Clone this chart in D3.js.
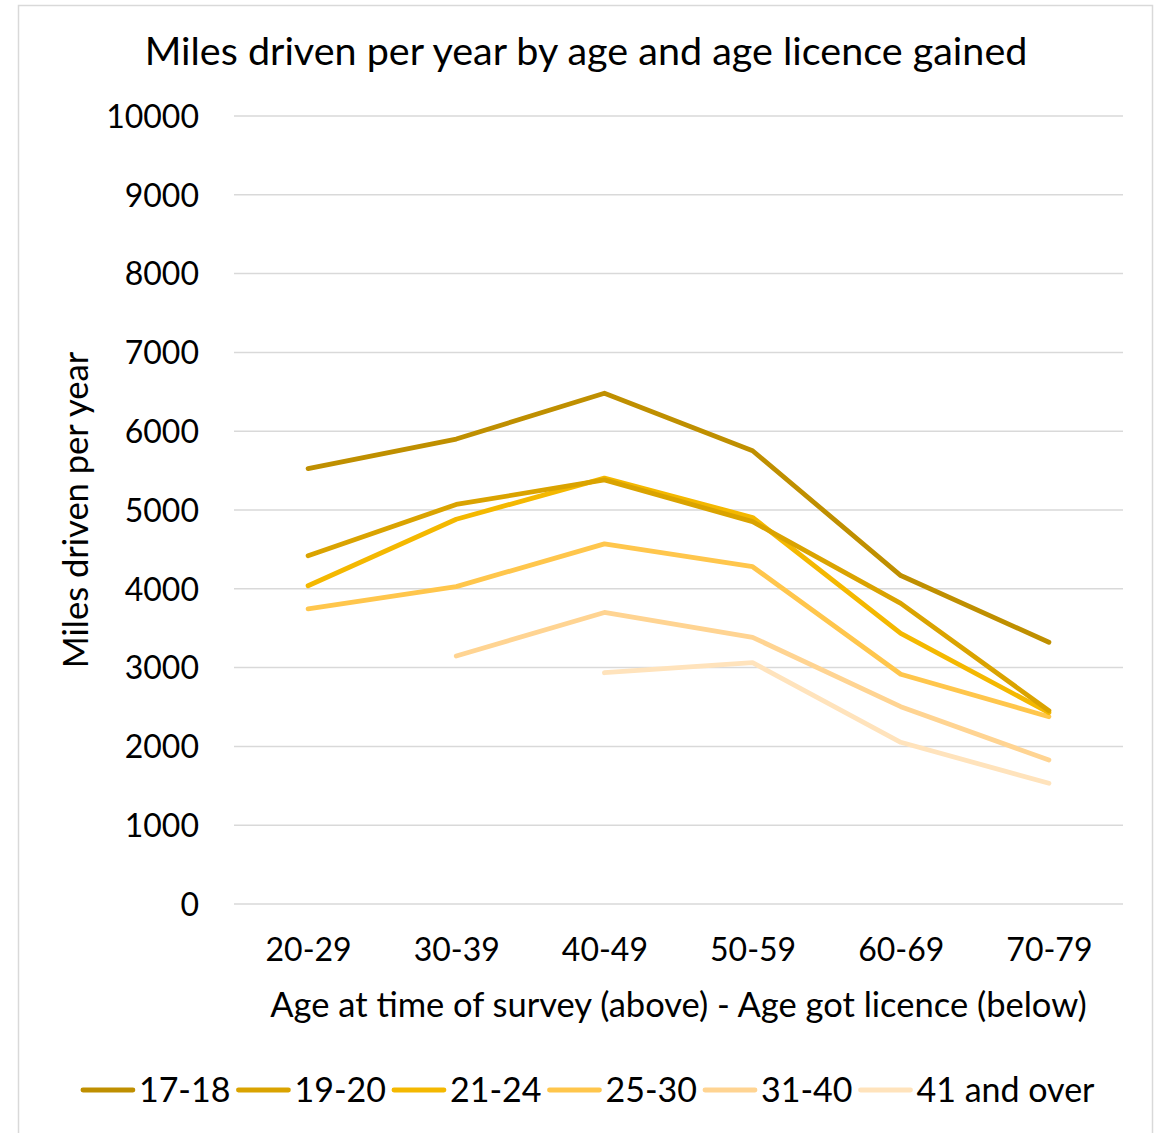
<!DOCTYPE html>
<html>
<head>
<meta charset="utf-8">
<script src="https://d3js.org/d3.v7.min.js"></script>
<style>
  body { margin: 0; background: #fff; }
  svg text { font-family: Lato, "Noto Sans", sans-serif; fill: #000; }
</style>
</head>
<body>
<div id="chart"></div>
<script>
        // Data
        const ageGroups = ["20-29", "30-39", "40-49", "50-59", "60-69", "70-79"];
        const seriesNames = ["17-18", "19-20", "21-24", "25-30", "31-40", "41 and over"];
        const seriesColors = ["#BF8F00", "#DAA300", "#F4B800", "#FFC64C", "#FFD492", "#FFE3BC"];
        const yTicks = [0, 1000, 2000, 3000, 4000, 5000, 6000, 7000, 8000, 9000, 10000];

        // null = no value for that age group
        const miles1718 = [5525, 5900, 6482, 5752, 4168, 3322];
        const miles1920 = [4420, 5070, 5382, 4852, 3815, 2453];
        const miles2124 = [4038, 4882, 5405, 4905, 3434, 2428];
        const miles2530 = [3745, 4028, 4570, 4280, 2915, 2377];
        const miles3140 = [null, 3147, 3700, 3384, 2504, 1827];
        const miles41up = [null, null, 2935, 3062, 2052, 1532];
        const seriesValues = [miles1718, miles1920, miles2124, miles2530, miles3140, miles41up];

        const width = 1162, height = 1133;
        const margin = { top: 116, right: 39, bottom: 229, left: 234 };

        const svg = d3.select("#chart")
            .append("svg")
            .attr("width", width)
            .attr("height", height);

        // Chart border
        svg.append("rect")
            .attr("x", 18.5).attr("y", 5.5)
            .attr("width", 1134).attr("height", 1140)
            .attr("fill", "none")
            .attr("stroke", "#d9d9d9")
            .attr("stroke-width", 1.5);

        const x = d3.scalePoint()
            .domain(ageGroups)
            .range([margin.left, width - margin.right])
            .padding(0.5);

        const y = d3.scaleLinear()
            .domain([0, 10000])
            .range([height - margin.bottom, margin.top]);

        // Gridlines
        svg.append("g")
            .selectAll("line")
            .data(yTicks)
            .join("line")
            .attr("x1", margin.left)
            .attr("x2", width - margin.right)
            .attr("y1", d => y(d))
            .attr("y2", d => y(d))
            .attr("stroke", "#d9d9d9")
            .attr("stroke-width", 1.5);

        // Y axis labels
        const yAxis = svg.append("g")
            .attr("transform", `translate(${margin.left - 35},0)`)
            .call(d3.axisLeft(y).tickValues(yTicks).tickFormat(d3.format("d")).tickSize(0).tickPadding(0));
        yAxis.select(".domain").remove();
        yAxis.selectAll("text")
            .attr("font-size", 32)
            .attr("font-family", "Lato, 'Noto Sans', sans-serif")
            .attr("fill", "#000")
            .attr("dy", "0.35em");

        // X axis labels
        const xAxis = svg.append("g")
            .attr("transform", `translate(0,${height - margin.bottom + 38})`)
            .call(d3.axisBottom(x).tickSize(0).tickPadding(0));
        xAxis.select(".domain").remove();
        xAxis.selectAll("text")
            .attr("font-size", 32)
            .attr("font-family", "Lato, 'Noto Sans', sans-serif")
            .attr("fill", "#000")
            .attr("dy", "0.6em");

        // Lines
        const line = d3.line()
            .defined(d => d.v != null)
            .x(d => x(d.age))
            .y(d => y(d.v));

        svg.append("g")
            .selectAll("path")
            .data(seriesValues.map((vals, i) => ({ i, pts: vals.map((v, j) => ({ age: ageGroups[j], v })) })).reverse())
            .join("path")
            .attr("d", d => line(d.pts))
            .attr("fill", "none")
            .attr("stroke", d => seriesColors[d.i])
            .attr("stroke-width", 4.8)
            .attr("stroke-linecap", "round")
            .attr("stroke-linejoin", "round");

        // Title
        svg.append("text")
            .attr("x", 586).attr("y", 65)
            .attr("text-anchor", "middle")
            .attr("font-size", 39.5)
            .text("Miles driven per year by age and age licence gained");

        // Axis titles
        svg.append("text")
            .attr("x", (margin.left + width - margin.right) / 2)
            .attr("y", 1017)
            .attr("text-anchor", "middle")
            .attr("font-size", 34.5)
            .text("Age at time of survey (above) - Age got licence (below)");

        svg.append("text")
            .attr("transform", `translate(88,${(margin.top + height - margin.bottom) / 2}) rotate(-90)`)
            .attr("text-anchor", "middle")
            .attr("font-size", 34.5)
            .text("Miles driven per year");

        // Legend
        const legend = svg.append("g");
        const items = legend.selectAll("g")
            .data(seriesNames)
            .join("g");
        items.append("line")
            .attr("x1", 2).attr("x2", 52)
            .attr("y1", 0).attr("y2", 0)
            .attr("stroke", (d, i) => seriesColors[i])
            .attr("stroke-width", 4.8)
            .attr("stroke-linecap", "round");
        items.append("text")
            .attr("x", 58)
            .attr("dy", "0.35em")
            .attr("font-size", 34)
            .text(d => d);
        items.each(function () {
            const w = this.getBBox().width;
            d3.select(this).attr("data-w", w);
        });
        const gap = 8;
        const totalW = d3.sum(items.nodes(), n => +n.getAttribute("data-w")) + gap * (seriesNames.length - 1);
        let start = (81 + 1093) / 2 - totalW / 2;
        items.attr("transform", function () {
            const t = `translate(${start},1090)`;
            start += +this.getAttribute("data-w") + gap;
            return t;
        });
</script>
</body>
</html>
